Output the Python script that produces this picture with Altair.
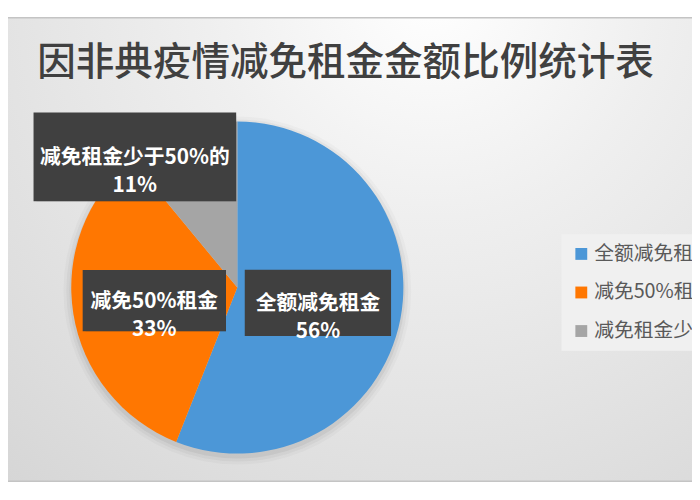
import altair as alt
import pandas as pd

# ---- data ----
title_text = "因非典疫情减免租金金额比例统计表"
categories = ["全额减免租金", "减免50%租金", "减免租金少于50%的"]
values = [56, 33, 11]
colors = ["#4C97D7", "#FF7701", "#A5A5A5"]

# ---- layout (label placement, not data) ----
label_radius = [83, 85, 168]
label_nudge_deg = [0, 0, -18.3]
box_w = [148, 145, 205]
box_h = [67, 62, 90]

W, H = 692, 480
CX, CY, R = 232, 280, 168
FONT = "Noto Sans CJK SC"

df = pd.DataFrame({
    "cat": categories,
    "value": values,
    "idx": list(range(len(categories))),
    "lr": label_radius,
    "nudge": label_nudge_deg,
    "bw": box_w,
    "bh": box_h,
})

one = alt.Data(values=[{}])

bg = alt.Chart(one).mark_rect(
    color={
        "gradient": "radial",
        "x1": 0.62, "y1": 0.12, "r1": 0,
        "x2": 0.62, "y2": 0.12, "r2": 0.95,
        "stops": [
            {"offset": 0, "color": "#ffffff"},
            {"offset": 0.35, "color": "#efefef"},
            {"offset": 1, "color": "#d6d6d6"},
        ],
    }
).encode(x=alt.value(0), x2=alt.value(W), y=alt.value(7), y2=alt.value(476))

top_line = alt.Chart(one).mark_rule(color="#c4c4c4", strokeWidth=1.5).encode(
    x=alt.value(0), x2=alt.value(W), y=alt.value(7))
bottom_line = alt.Chart(one).mark_rule(color="#c4c4c4", strokeWidth=1.5).encode(
    x=alt.value(0), x2=alt.value(W), y=alt.value(476))

shadows = [
    alt.Chart(one).mark_arc(theta=0, theta2=6.2832, radius=R + dr, color="black", opacity=op)
    .encode(x=alt.value(CX), y=alt.value(CY + 3))
    for dr, op in [(8, 0.025), (5, 0.035), (2, 0.05)]
]

pie = alt.Chart(df).mark_arc(radius=R).encode(
    theta=alt.Theta("value:Q", stack=True),
    order=alt.Order("idx:Q"),
    color=alt.Color(
        "cat:N",
        sort=categories,
        scale=alt.Scale(domain=categories, range=colors),
        legend=alt.Legend(
            title=None, orient="none", legendX=560, legendY=226,
            symbolType="square", symbolSize=144, symbolStrokeWidth=0,
            labelFontSize=20, labelFont=FONT, labelColor="#595959",
            labelLimit=400, labelOffset=3, rowPadding=19, padding=10,
            fillColor="#f0f0f0",
        ),
    ),
    x=alt.value(CX),
    y=alt.value(CY),
)

lab = (
    alt.Chart(df)
    .transform_joinaggregate(total="sum(value)")
    .transform_window(cum="sum(value)", sort=[alt.SortField("idx")], frame=[None, 0])
    .transform_calculate(mid="(datum.cum - datum.value/2)/datum.total*2*PI + datum.nudge*PI/180")
    .transform_calculate(lx=f"{CX} + datum.lr*sin(datum.mid)", ly=f"{CY} - datum.lr*cos(datum.mid)")
    .transform_calculate(
        x1="datum.lx - datum.bw/2", x2="datum.lx + datum.bw/2",
        y1="datum.ly - datum.bh/2", y2="datum.ly + datum.bh/2",
        txt="datum.cat + '\\n' + datum.value + '%'",
    )
)

box_enc = dict(
    x=alt.X("x1:Q", scale=None, axis=None), x2="x2:Q",
    y=alt.Y("y1:Q", scale=None, axis=None), y2="y2:Q",
)
box_shadow = lab.mark_rect(color="black", opacity=0.22, xOffset=3, yOffset=3).encode(**box_enc)
box = lab.mark_rect(color="#404040").encode(**box_enc)
text = lab.mark_text(
    lineBreak="\n", font=FONT, fontSize=21, fontWeight="bold", color="white",
    align="center", baseline="middle", lineHeight=29, dy=1,
).encode(
    x=alt.X("lx:Q", scale=None, axis=None),
    y=alt.Y("ly:Q", scale=None, axis=None),
    text="txt:N",
)

title = alt.Chart(one).mark_text(
    text=title_text, font=FONT, fontSize=39, fontWeight=500, color="#404040",
    align="center", baseline="middle",
).encode(x=alt.value(341.5), y=alt.value(53))

chart = alt.layer(
    bg, top_line, bottom_line, *shadows, pie, box_shadow, box, text, title
).properties(
    width=W, height=H,
    autosize=alt.AutoSizeParams(type="none"),
    padding=0,
).configure_view(stroke=None)

chart.save("out.html", embed_options={"renderer": "svg", "actions": False})
